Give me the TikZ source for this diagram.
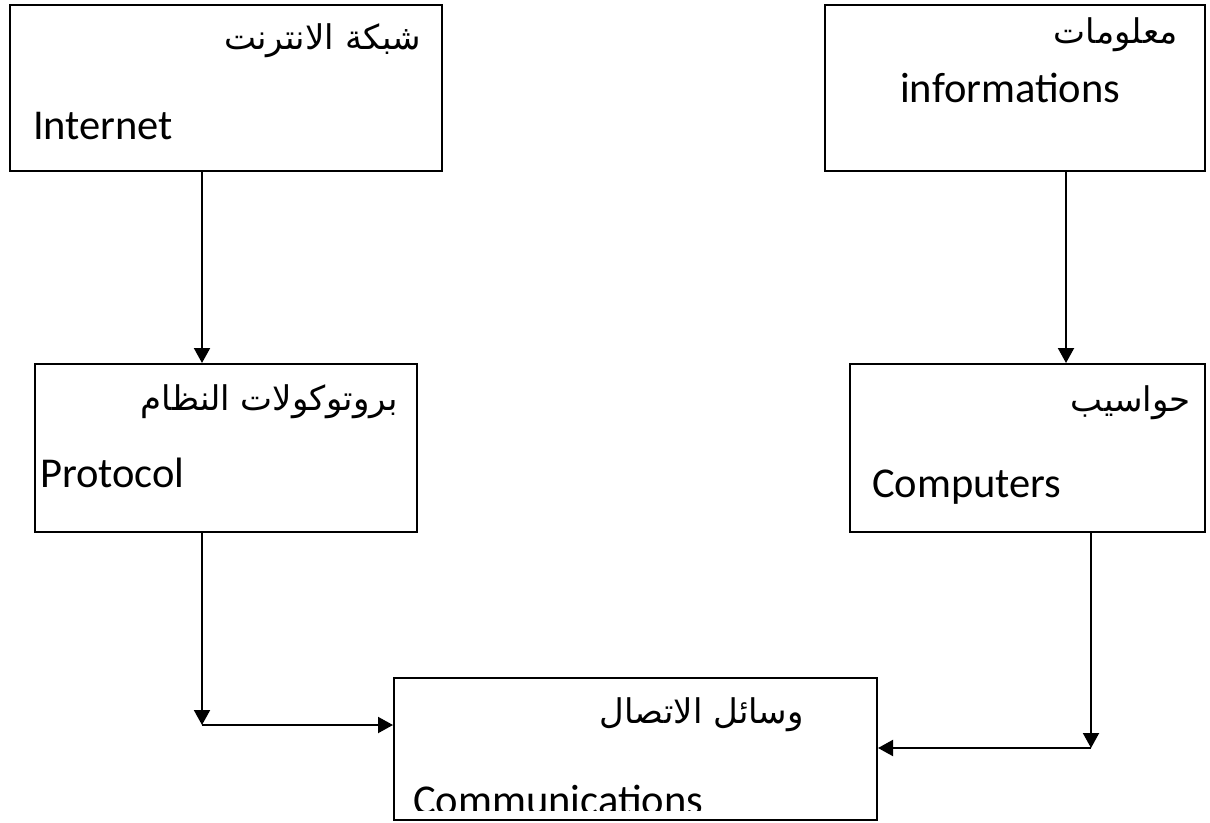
\documentclass[tikz,border=0pt]{standalone}
\usepackage{fontspec}
\setmainfont{Carlito}
\newfontfamily\arabicfont[Script=Arabic]{DejaVu Sans}
\TeXXeTstate=1
\usetikzlibrary{arrows.meta}
\begin{document}
\begin{tikzpicture}[x=1pt,y=-1pt,
  boxa/.style={draw,line width=2.6pt,rectangle,inner sep=0pt},
  boxb/.style={draw,line width=2pt,rectangle,inner sep=0pt},
  arr/.style={line width=2pt,-{Triangle[length=15pt,width=16pt]}},
  en/.style={font=\fontsize{42.5}{42}\selectfont,inner sep=0pt,anchor=base west},
  ar/.style={font=\arabicfont\fontsize{34}{34}\selectfont,inner sep=0pt,anchor=base east}]
\useasboundingbox (0,0) rectangle (1210,822);
\fill[white] (0,0) rectangle (1210,822);
% boxes
\node[boxa,minimum width=432pt,minimum height=166pt] (inet) at (226,88) {};
\node[boxa,minimum width=380pt,minimum height=166pt] (info) at (1015,88) {};
\node[boxb,minimum width=382pt,minimum height=168pt] (proto) at (226,448) {};
\node[boxb,minimum width=355pt,minimum height=168pt] (comp) at (1027.5,448) {};
\node[boxb,minimum width=483pt,minimum height=142pt] (comm) at (635.5,749) {};
% texts
\node[ar] (t1a) at (421,49) {\beginR شبكة الانترنت\endR};
\node[en] (t1e) at (33,139) {Internet};
\node[ar] (t2a) at (1178,43) {\beginR معلومات\endR};
\node[en] (t2e) at (900,102) {informations};
\node[ar] (t3a) at (398,410) {\beginR بروتوكولات النظام\endR};
\node[en] (t3e) at (40,487) {Protocol};
\node[ar] (t4a) at (1191,411) {\beginR حواسيب\endR};
\node[en] (t4e) at (872,497) {Computers};
\node[ar] (t5a) at (804,723) {\beginR وسائل الاتصال\endR};
\begin{scope}
\clip (394,678) rectangle (877,810);
\node[en] (t5e) at (413,814) {Communications};
\end{scope}
% connectors
\coordinate (c1) at (202,0);
\coordinate (c2) at (1066,0);
\coordinate (j1) at (202,725);
\coordinate (j2) at (1091,748);
\draw[arr] (inet.south -| c1) -- (proto.north -| c1);
\draw[arr] (info.south -| c2) -- (comp.north -| c2);
\draw[arr] (proto.south -| j1) -- (j1);
\draw[arr] (j1) -- (comm.west |- j1);
\draw[arr] (comp.south -| j2) -- (j2);
\draw[arr] (j2) -- (comm.east |- j2);
\end{tikzpicture}
\end{document}
